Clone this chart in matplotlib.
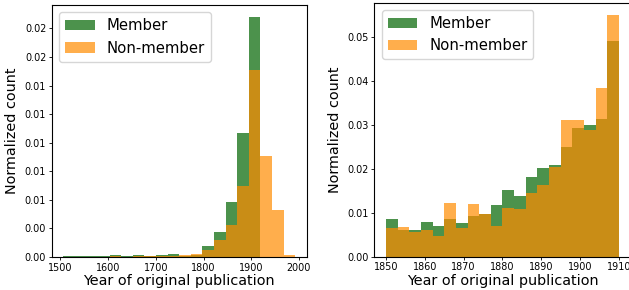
import numpy as np
import matplotlib
matplotlib.use('Agg')
import matplotlib.pyplot as plt
from matplotlib.ticker import FormatStrFormatter

# Left panel: all years, 20 shared bins
left_edges = [1506, 1530.3, 1554.6, 1578.9, 1603.2, 1627.5, 1651.8, 1676.1, 1700.4, 1724.7,
              1749, 1773.3, 1797.6, 1821.9, 1846.2, 1870.5, 1894.8, 1919.1, 1943.4, 1967.7, 1992]
left_member = [0.00005, 0.00005, 0.00005, 0.0001, 0.00018, 0.0001, 0.00016, 0.00008, 0.00015, 0.00025,
               0.0001, 0.0002, 0.00094, 0.00217, 0.0048, 0.01083, 0.0210, 0.0, 0.0, 0.0]
left_nonmember = [0.00003, 0.00003, 0.00003, 0.00003, 0.00005, 0.00003, 0.00005, 0.00005, 0.00008, 0.0001,
                  0.00017, 0.00029, 0.00059, 0.00146, 0.00278, 0.0062, 0.0164, 0.00884, 0.0041, 0.00015]

# Right panel: 1850-1910, 3-year bins
right_edges = [1850, 1853, 1856, 1859, 1862, 1865, 1868, 1871, 1874, 1877, 1880,
               1883, 1886, 1889, 1892, 1895, 1898, 1901, 1904, 1907, 1910]
right_member = [0.00853, 0.00612, 0.00612, 0.00785, 0.00695, 0.00853, 0.00763, 0.00921, 0.0096, 0.01171,
                0.0151, 0.01375, 0.01805, 0.0201, 0.02077, 0.02485, 0.02915, 0.02983, 0.03119, 0.04909]
right_nonmember = [0.0065, 0.00672, 0.00559, 0.00604, 0.00468, 0.01216, 0.0065, 0.01193, 0.00967, 0.00695,
                   0.0110, 0.0108, 0.01443, 0.01624, 0.02032, 0.03097, 0.03097, 0.0287, 0.03844, 0.05498]

fig = plt.figure(figsize=(6.29, 2.9), dpi=100)
ax1 = fig.add_axes([0.0822, 0.1138, 0.4054, 0.869])
ax2 = fig.add_axes([0.5951, 0.1148, 0.4074, 0.876])

tick_size = 6.9
label_size = 10.4

for ax, edges, mem, non in [(ax1, left_edges, left_member, left_nonmember),
                            (ax2, right_edges, right_member, right_nonmember)]:
    edges = np.array(edges)
    ax.hist(edges[:-1], bins=edges, weights=mem, color='darkgreen', alpha=0.7, label='Member')
    ax.hist(edges[:-1], bins=edges, weights=non, color='darkorange', alpha=0.7, label='Non-member')
    ax.set_xlabel('Year of original publication', fontsize=label_size)
    ax.set_ylabel('Normalized count', fontsize=label_size)
    ax.tick_params(labelsize=tick_size, length=2.5, width=0.6, pad=1.5)
    ax.legend(loc='upper left', fontsize=label_size + 0.3)
    for s in ax.spines.values():
        s.set_linewidth(0.8)

ax1.yaxis.set_major_formatter(FormatStrFormatter('%.2f'))
ax1.set_yticks(np.arange(0, 0.0201, 0.0025))
ax2.yaxis.set_major_formatter(FormatStrFormatter('%.2f'))
ax1.xaxis.labelpad = 1
ax2.xaxis.labelpad = 1

fig.savefig('out.png', dpi=100)
